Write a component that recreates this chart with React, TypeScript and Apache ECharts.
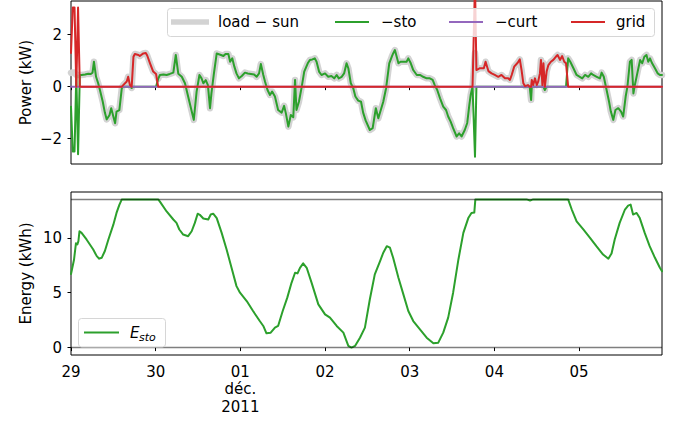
import React, { useEffect, useRef } from 'react';
import * as echarts from 'echarts';

// x in hours since 29 Nov 2011 00:00
const dayTickHours = [0, 24, 48, 72, 96, 120, 144];
const dayTickLabels = ['29', '30', '01\ndéc.\n2011', '02', '03', '04', '05'];
const xMaxHours = 167.5;

const powerTicks = [-2, 0, 2];
const energyTicks = [0, 5, 10];
const eStoMax = 13.5;

// load − sun (kW)
const loadSun: [number, number][] = [
  [0, 0.53], [0.5, 0.55], [1, 0.55], [1.5, 0.45], [2, 0.45], [2.5, 0.45], [3, 0.45], [4, 0.47], [4.9, 0.5],
  [5.6, 0.49], [6.1, 0.54], [6.5, 0.96], [7.1, 0.38], [7.7, 0.13], [8.2, -0.13], [9, -0.58], [9.6, -1.0],
  [10.1, -1.26], [10.9, -1.1], [11.4, -0.83], [12, -1.15], [12.5, -1.41], [12.9, -0.96], [13.7, -0.9],
  [14.4, -0.06], [14.8, 0.06], [15.8, 0.2], [16.2, 0.38], [16.7, 0.06], [17.2, -0.05], [17.7, 1.15],
  [18.1, 1.26], [19.1, 1.22], [19.5, 1.18], [20.5, 1.28], [21.2, 1.3], [21.6, 1.2], [22.4, 0.9], [23.3, 0.58],
  [24.1, 0.49], [24.7, 0.3], [25.2, 0.45], [26.2, 0.47], [27.1, 0.45], [28, 0.49], [29, 0.54], [29.7, 1.22],
  [30.4, 0.5], [31.4, 0.38], [32.3, 0.13], [33.2, -0.38], [33.9, -0.77], [34.8, -1.28], [35.6, -0.19],
  [36.4, 0.45], [37, 0.32], [37.5, 0.13], [38.2, 0.25], [38.8, 0.06], [39.4, -0.83], [39.8, -0.26], [40.5, 0.5],
  [41.3, 1.28], [41.7, 1.26], [42.5, 1.22], [43.2, 1.18], [43.8, 1.26], [44.6, 1.26], [45.1, 0.96], [45.7, 1.09],
  [46.3, 0.77], [46.9, 0.51], [47.6, 0.32], [48.4, 0.41], [49.3, 0.54], [50.1, 0.51], [51, 0.49], [51.9, 0.47],
  [52.6, 0.38], [53.3, 0.51], [53.8, 0.87], [54.5, 0.45], [55, 0.19], [55.7, -0.13], [56.4, -0.32], [57, -0.19],
  [57.8, -0.38], [58.7, -0.9], [59.7, -1.0], [60.4, -0.74], [60.9, -1.03], [61.6, -1.54], [62.3, -1.09],
  [63, -1.18], [63.5, 0.26], [63.9, -0.9], [64.6, -0.58], [65.4, 0], [66.1, 0.58], [67.1, 0.9], [67.7, 1.03],
  [68.4, 1.05], [69.1, 1.09], [69.6, 0.96], [70.3, 0.58], [71, 0.45], [72, 0.51], [72.9, 0.38], [73.8, 0.41],
  [74.6, 0.32], [75.3, 0.45], [75.9, 0.32], [76.7, 0.38], [77.4, 0.51], [78.1, 0.9], [78.6, 0.71], [79.3, 0.13],
  [80, -0.06], [80.6, -0.38], [81.4, -0.54], [82.2, -0.58], [82.8, -1.0], [83.5, -1.3], [84.7, -1.67],
  [85.5, -1.6], [86.4, -0.83], [87.1, -1.22], [87.8, -0.9], [88.5, -0.58], [89.3, -0.06], [90.2, 0.9],
  [90.9, 1.15], [91.3, 1.28], [91.8, 1.41], [92.8, 0.9], [93.4, 0.96], [94.2, 0.96], [95.1, 0.96], [95.6, 1.09],
  [96.3, 0.9], [97, 0.64], [98, 0.45], [98.9, 0.45], [99.8, 0.38], [100.8, 0.32], [101.7, 0.32], [102.5, 0.26],
  [103.1, 0.06], [103.8, -0.13], [104.6, -0.45], [105.5, -0.77], [106.3, -0.9], [106.9, -1.15], [107.6, -1.35],
  [108.3, -1.6], [109.3, -1.92], [110, -1.8], [110.7, -1.92], [111.6, -1.67], [112.3, -1.4], [112.9, -0.7],
  [113.3, -0.3], [113.8, 0], [114.5, 1.3], [114.9, 0.64], [115.9, 0.71], [117, 0.71], [117.5, 0.96],
  [118.3, 0.6], [119.2, 0.51], [120.1, 0.45], [121.1, 0.38], [122, 0.45], [123, 0.32], [123.9, 0.32],
  [124.4, 0.26], [124.9, 0.45], [125.6, 0.77], [126.6, 0.92], [127.2, 1.05], [127.7, 0.64], [128.2, 0.13],
  [128.7, 0.02], [129.5, 0.06], [130, 0], [130.4, -0.51], [130.6, 0.26], [131, 0.06], [131.5, 0.32], [132, 0.06],
  [132.4, 0.19], [132.9, 0.51], [133.2, 1.03], [133.6, 0.06], [133.9, 0.9], [134.3, -0.13], [134.8, 0.58],
  [135.3, 0.83], [136, 0.96], [136.7, 1.03], [137.4, 1.15], [137.9, 1.22], [138.6, 1.03], [139.2, 1.18],
  [139.8, 0.96], [140.3, 0.9], [140.9, 1.09], [141.5, 0.96], [142.4, 0.71], [143.3, 0.45], [144.2, 0.38],
  [144.9, 0.32], [145.7, 0.45], [146.6, 0.38], [147.4, 0.51], [148, 0.45], [149, 0.38], [149.9, 0.32],
  [150.4, 0.54], [151, 0.38], [151.8, -0.13], [152.5, -0.58], [153, -0.96], [153.7, -1.28], [154.3, -0.9],
  [155.1, -0.83], [155.9, -0.96], [156.5, -1.15], [157.2, -0.38], [157.7, 0], [158.4, 0.96], [158.9, 1.03],
  [159.4, -0.26], [159.8, 0.06], [160.6, 0.58], [161.3, 1.03], [161.9, 0.9], [162.5, 1.15], [163.1, 1.22],
  [163.6, 0.96], [164.1, 1.09], [164.7, 0.9], [165.5, 0.71], [166.3, 0.51], [166.9, 0.45], [167.5, 0.45],
];

// grid (kW); zero between listed points
const gridPower: [number, number][] = [
  [0, 1.3], [0.5, 3.05], [1, 3.05], [1.5, 0], [2, 3.05], [2.5, 0],
  [14.4, 0], [14.8, 0.06], [15.8, 0.2], [16.2, 0.38], [16.7, 0.06], [17.2, 0], [17.7, 1.15], [18.1, 1.26],
  [19.1, 1.22], [19.5, 1.18], [20.5, 1.28], [21.2, 1.3], [21.6, 1.2], [22.4, 0.9], [23.3, 0.58], [24.1, 0.49],
  [24.7, 0],
  [113.8, 0], [114.5, 4.0], [114.9, 0.64], [115.9, 0.71], [117, 0.71], [117.5, 0.96], [118.3, 0.6],
  [119.2, 0.51], [120.1, 0.45], [121.1, 0.38], [122, 0.45], [123, 0.32], [123.9, 0.32], [124.4, 0.26],
  [124.9, 0.45], [125.6, 0.77], [126.6, 0.92], [127.2, 1.05], [127.7, 0.64], [128.2, 0.13], [128.7, 0.02],
  [129.5, 0.06], [130, 0], [130.4, 0], [130.6, 0.26], [131, 0.06], [131.5, 0.32], [132, 0.06], [132.4, 0.19],
  [132.9, 0.51], [133.2, 1.03], [133.6, 0.06], [133.9, 0.9], [134.3, 0], [134.8, 0.58], [135.3, 0.83],
  [136, 0.96], [136.7, 1.03], [137.4, 1.15], [137.9, 1.22], [138.6, 1.03], [139.2, 1.18], [139.8, 0.96],
  [140.3, 0.9], [140.9, 0],
  [167.5, 0],
];

// −curt (kW)
const negCurt: [number, number][] = [[0, 0], [167.5, 0]];

// storage energy (kWh)
const eSto: [number, number][] = [
  [0, 6.7], [0.85, 8.0], [1.4, 9.5], [1.8, 9.4], [2.1, 9.7], [2.4, 10.6], [3, 10.45], [4.4, 9.85], [6.3, 8.94],
  [7.3, 8.33], [8, 8.1], [8.7, 8.18], [9.6, 8.8], [10.6, 9.85], [12, 11.2], [12.9, 12.27], [13.7, 13.0],
  [14.4, 13.5], [24.7, 13.5], [25.2, 13.3], [27.1, 12.4], [29, 11.67], [29.9, 11.36], [30.7, 10.76],
  [31.8, 10.3], [33.2, 10.15], [34.2, 10.6], [35.1, 11.36], [35.9, 12.2], [36.5, 12.1], [37.5, 11.76],
  [38.9, 11.67], [39.6, 12.12], [40.3, 12.2], [41.3, 11.8], [42.7, 10.45], [44.1, 8.94], [45.5, 7.27],
  [46.9, 5.6], [47.9, 5.0], [49.8, 4.24], [51.6, 3.33], [53.5, 2.42], [54.5, 1.97], [55.4, 1.3], [56.6, 1.36],
  [57.8, 1.82], [58.7, 1.97], [60, 3.33], [61.3, 4.55], [62.5, 5.9], [63.5, 6.82], [64.2, 6.76], [64.9, 7.27],
  [65.8, 7.67], [66.8, 7.27], [68.2, 5.9], [70.1, 3.94], [72, 3.03], [73.4, 2.73], [75.3, 1.97], [77.2, 1.36],
  [78.6, 0.15], [79.5, 0], [80.5, 0.15], [81.9, 0.9], [83.3, 1.82], [84.7, 4.4], [86.1, 6.67], [87.6, 7.88],
  [88.5, 8.64], [89.5, 9.24], [90.4, 9.1], [91.3, 8.18], [92.8, 6.36], [94.2, 4.85], [95.6, 3.33], [97, 2.42],
  [98.9, 1.67], [100.8, 0.9], [102.7, 0.39], [104.1, 0.45], [105.5, 1.36], [106.9, 2.73], [108.3, 5.0],
  [109.8, 8.03], [111.2, 10.45], [112.6, 11.8], [113.5, 12.27], [114.3, 12.3], [114.6, 13.5], [129.1, 13.5],
  [130.1, 13.4], [131, 13.5], [140.9, 13.5], [141.9, 12.6], [143.3, 11.5], [145.2, 10.76], [147.1, 10.0],
  [148.9, 9.24], [150.8, 8.48], [152.3, 8.1], [153.2, 8.58], [154.1, 9.85], [155.5, 11.36], [157, 12.58],
  [157.9, 12.94], [158.6, 13.03], [159.3, 12.12], [160.3, 12.27], [161.2, 11.8], [162.6, 10.45], [164, 9.24],
  [165.5, 8.18], [166.9, 7.27], [167.5, 6.97],
];

const FONT = 'DejaVu Sans';
const C_GRAY = '#d3d3d3';
const C_GREEN = '#2ca02c';
const C_PURPLE = '#9467bd';
const C_RED = '#d62728';

const minusFmt = (v: number) => (v < 0 ? '\u2212' + Math.abs(v) : String(v));

export default function App() {
  const ref = useRef<HTMLDivElement>(null);
  useEffect(() => {
    if (!ref.current) return;
    const chart = echarts.init(ref.current, null, { renderer: 'svg' });

    const gridMap = new Map<number, number>(gridPower.map(([h, v]) => [h, v]));
    const negSto = loadSun.map(([h, v]) => [h, +(v - (gridMap.get(h) ?? 0)).toFixed(3)]);

    const L = 71, W = 591;
    const xBase = (gi: number, labels: boolean) => ({
      type: 'value',
      gridIndex: gi,
      min: 0,
      max: xMaxHours,
      axisLine: { show: false },
      splitLine: { show: false },
      axisTick: { show: true, inside: false, length: 3.5, lineStyle: { color: '#000', width: 1 }, customValues: dayTickHours },
      axisLabel: {
        show: labels,
        customValues: dayTickHours,
        formatter: (v: number) => {
          const i = dayTickHours.indexOf(Math.round(v));
          return i >= 0 ? dayTickLabels[i] : '';
        },
        color: '#000',
        fontFamily: FONT,
        fontSize: 15,
        lineHeight: 17.5,
        margin: 8,
      },
    });
    const yBase = (gi: number, min: number, max: number, ticks: number[], name: string) => ({
      type: 'value',
      gridIndex: gi,
      min,
      max,
      axisLine: { show: false },
      splitLine: { show: false },
      axisTick: { show: true, inside: false, length: 3.5, lineStyle: { color: '#000', width: 1 }, customValues: ticks },
      axisLabel: { customValues: ticks, formatter: minusFmt, color: '#000', fontFamily: FONT, fontSize: 15, margin: 9 },
      name,
      nameLocation: 'middle',
      nameGap: 38,
      nameMoveOverlap: false,
      nameTextStyle: { color: '#000', fontFamily: FONT, fontSize: 15 },
    });

    const lineSeries = (data: any, color: string, width: number, z: number, xi = 0) => ({
      type: 'line',
      xAxisIndex: xi,
      yAxisIndex: xi,
      data,
      symbol: 'none',
      showSymbol: false,
      clip: true,
      z,
      lineStyle: { color, width, join: 'round', cap: 'round' },
      emphasis: { disabled: true },
    });

    const legendText = (text: string, x: number, y: number, extra: any = {}) => ({
      type: 'text',
      x,
      y,
      z: 102,
      style: { text, fill: '#000', font: `15px "${FONT}"`, verticalAlign: 'middle', align: 'left', ...extra },
    });
    const legendLine = (x1: number, x2: number, y: number, color: string, w: number) => ({
      type: 'line',
      z: 101,
      shape: { x1, y1: y, x2, y2: y },
      style: { stroke: color, lineWidth: w },
    });

    chart.setOption({
      animation: false,
      backgroundColor: '#fff',
      textStyle: { fontFamily: FONT },
      grid: [
        { left: L, top: 1, width: W, height: 163, show: true, borderColor: '#000', borderWidth: 1, backgroundColor: 'transparent', containLabel: false },
        { left: L, top: 192, width: W, height: 163, show: true, borderColor: '#000', borderWidth: 1, backgroundColor: 'transparent', containLabel: false },
      ],
      xAxis: [xBase(0, false), xBase(1, true)],
      yAxis: [
        yBase(0, -2.98, 3.3, powerTicks, 'Power (kW)'),
        yBase(1, -0.675, 14.175, energyTicks, 'Energy (kWh)'),
      ],
      series: [
        lineSeries(loadSun, C_GRAY, 6.5, 1),
        lineSeries(negSto, C_GREEN, 2, 2),
        lineSeries(negCurt, C_PURPLE, 2, 3),
        lineSeries(gridPower, C_RED, 2, 4),
        {
          ...lineSeries(eSto, C_GREEN, 2, 2, 1),
          markLine: {
            silent: true,
            symbol: ['none', 'none'],
            label: { show: false },
            lineStyle: { color: '#000', opacity: 0.5, width: 1.3, type: 'solid' },
            data: [{ yAxis: 0 }, { yAxis: eStoMax }],
          },
        },
      ],
      graphic: [
        {
          type: 'rect',
          z: 100,
          shape: { x: 167.5, y: 8.5, width: 487, height: 28, r: 3 },
          style: { fill: 'rgba(255,255,255,0.8)', stroke: '#d6d6d6', lineWidth: 1 },
        },
        legendLine(171, 209, 22, C_GRAY, 5.5),
        legendText('load \u2212 sun', 218, 22),
        legendLine(335, 369, 22, C_GREEN, 2),
        legendText('\u2212sto', 381, 22),
        legendLine(449, 483, 22, C_PURPLE, 2),
        legendText('\u2212curt', 495, 22),
        legendLine(571, 605, 22, C_RED, 2),
        legendText('grid', 616, 22),
        {
          type: 'rect',
          z: 100,
          shape: { x: 78.5, y: 318.5, width: 87, height: 28.5, r: 3 },
          style: { fill: 'rgba(255,255,255,0.8)', stroke: '#d6d6d6', lineWidth: 1 },
        },
        legendLine(84, 119, 332.5, C_GREEN, 2),
        legendText('E', 130, 332.5, { font: `italic 15px "${FONT}"` }),
        legendText('sto', 139, 337, { font: `italic 11px "${FONT}"` }),
      ],
    });
    return () => chart.dispose();
  }, []);
  return <div ref={ref} style={{ position: 'absolute', left: 0, top: 0, width: 675, height: 423 }} />;
}
